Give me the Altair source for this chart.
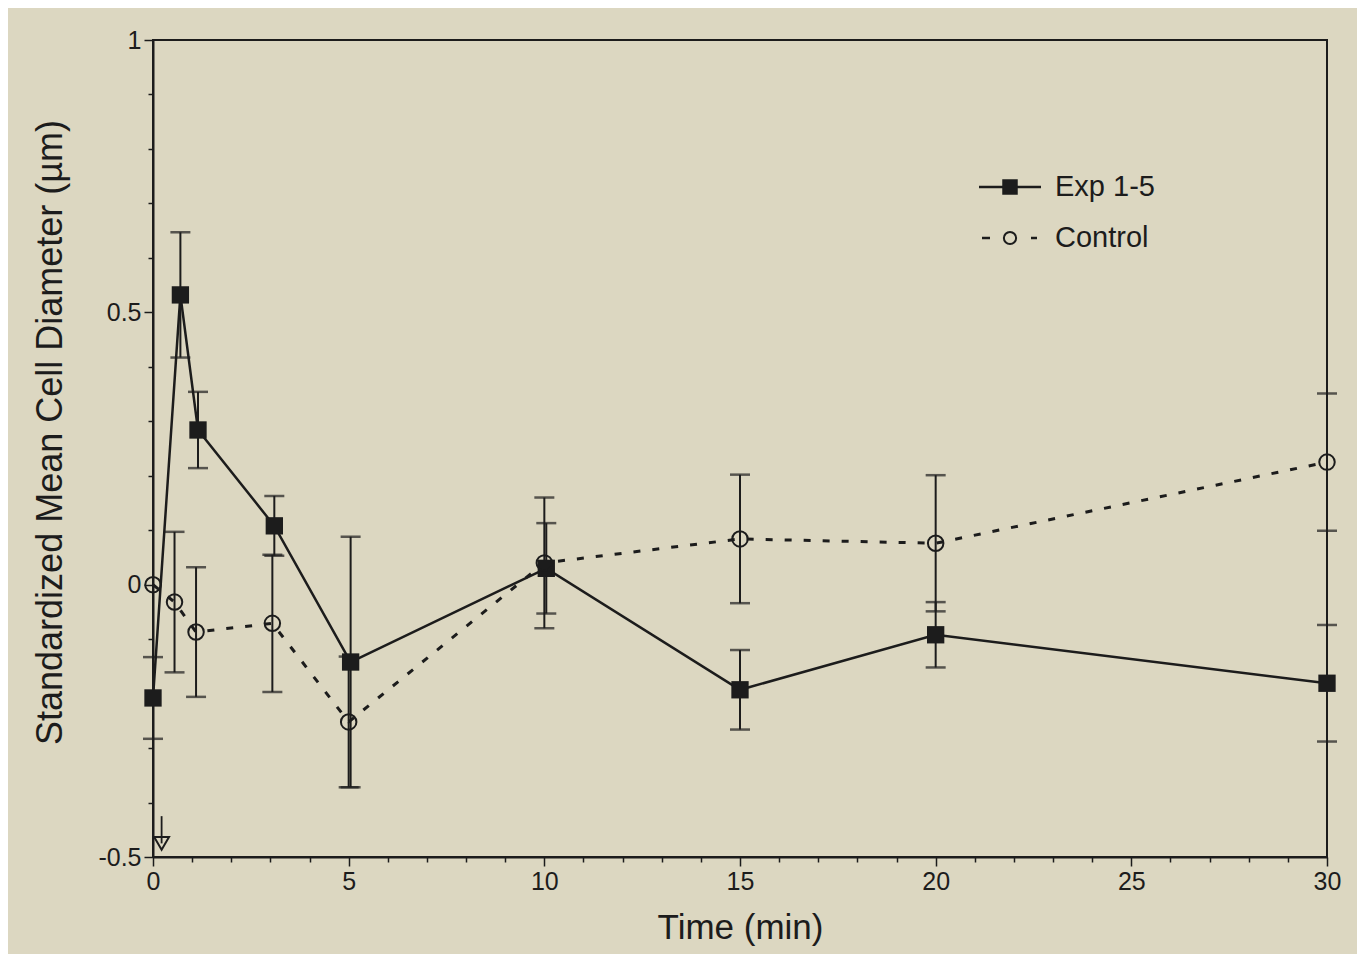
import altair as alt
import pandas as pd

# ---- data ----
exp_time = [0, 0.7, 1.15, 3.1, 5.05, 10.05, 15, 20, 30]
exp_mean = [-0.208, 0.532, 0.284, 0.108, -0.142, 0.030, -0.193, -0.092, -0.181]
exp_err = [0.075, 0.115, 0.070, 0.055, 0.230, 0.083, 0.073, 0.060, 0.107]

ctrl_time = [0, 0.55, 1.1, 3.05, 5.0, 10.0, 15, 20, 30]
ctrl_mean = [0.0, -0.032, -0.087, -0.071, -0.252, 0.040, 0.084, 0.076, 0.225]
ctrl_err = [None, 0.129, 0.119, 0.126, 0.120, 0.120, 0.118, 0.125, 0.126]

marker_time = [0.22]
marker_val = [-0.475]

x_ticks = list(range(0, 31))
y_ticks = [round(-0.5 + 0.1 * i, 1) for i in range(16)]

BG = "#DCD7C1"
INK = "#1c1c1c"
FONT = "Liberation Sans"

exp = pd.DataFrame({"t": exp_time, "m": exp_mean, "e": exp_err})
exp["lo"] = exp["m"] - exp["e"]
exp["hi"] = exp["m"] + exp["e"]
ctrl = pd.DataFrame({"t": ctrl_time, "m": ctrl_mean, "e": ctrl_err})
ctrl["lo"] = ctrl["m"] - ctrl["e"]
ctrl["hi"] = ctrl["m"] + ctrl["e"]
ctrl_eb = ctrl.dropna()
mk = pd.DataFrame({"t": marker_time, "m": marker_val})

xs = alt.Scale(domain=[0, 30], nice=False, zero=False)
ys = alt.Scale(domain=[-0.5, 1], nice=False, zero=False)

xaxis = alt.Axis(
    values=x_ticks,
    labelExpr="datum.value % 5 === 0 ? toString(datum.value) : ''",
    tickSize={"condition": {"test": "datum.value % 5 === 0", "value": 9}, "value": 5},
    labelOverlap=False, labelFlush=False, labelBound=False,
    grid=False, domainColor=INK, tickColor=INK, domainWidth=2, tickWidth=1.5,
    labelFont=FONT, labelFontSize=25, labelColor=INK, labelPadding=3,
    titleFont=FONT, titleFontSize=35, titleFontWeight="normal", titleColor=INK,
    titlePadding=16, title="Time (min)",
)
yaxis = alt.Axis(
    values=y_ticks,
    labelExpr="abs(datum.value*2 - round(datum.value*2)) < 0.001 ? toString(round(datum.value*2)/2) : ''",
    tickSize={"condition": {"test": "abs(datum.value*2 - round(datum.value*2)) < 0.001", "value": 9}, "value": 5},
    labelOverlap=False, labelFlush=False, labelBound=False,
    grid=False, domainColor=INK, tickColor=INK, domainWidth=2, tickWidth=1.5,
    labelFont=FONT, labelFontSize=25, labelColor=INK, labelPadding=3,
    titleFont=FONT, titleFontSize=36, titleFontWeight="normal", titleColor=INK,
    titlePadding=28, titleY=392, title="Standardized Mean Cell Diameter (µm)",
)

X = alt.X("t:Q", scale=xs, axis=xaxis)
Y = alt.Y("m:Q", scale=ys, axis=yaxis)

exp_line = alt.Chart(exp).mark_line(color=INK, strokeWidth=2.5).encode(x=X, y=Y)
ctrl_line = alt.Chart(ctrl).mark_line(color=INK, strokeWidth=3, strokeDash=[7, 12]).encode(x=X, y=Y)

def errbars(df):
    base = alt.Chart(df)
    rule = base.mark_rule(color=INK, strokeWidth=2).encode(
        x=X, y=alt.Y("lo:Q", scale=ys, axis=yaxis), y2="hi:Q")
    cap_lo = base.mark_tick(color=INK, orient="horizontal", size=20, thickness=2.5).encode(
        x=X, y=alt.Y("lo:Q", scale=ys, axis=yaxis))
    cap_hi = base.mark_tick(color=INK, orient="horizontal", size=20, thickness=2.5).encode(
        x=X, y=alt.Y("hi:Q", scale=ys, axis=yaxis))
    return rule + cap_lo + cap_hi

exp_pts = alt.Chart(exp).mark_point(shape="square", filled=True, color=INK, size=300, opacity=1).encode(x=X, y=Y)
ctrl_pts = alt.Chart(ctrl).mark_point(shape="circle", filled=False, color=INK, size=240, strokeWidth=2, opacity=1).encode(x=X, y=Y)

mk_pt = alt.Chart(mk).mark_point(shape="triangle-down", filled=False, color=INK, size=220, strokeWidth=2, opacity=1).encode(
    x=X, y=Y)
mk_arrow = alt.Chart(mk).mark_rule(color=INK, strokeWidth=1.8).encode(
    x=X, y=Y, y2=alt.Y2(datum=-0.425))

# ---- manual legend ----
leg_line = alt.Chart(mk).mark_rule(color=INK, strokeWidth=2.5).encode(
    x=alt.value(826), x2=alt.value(888), y=alt.value(147))
leg_sq = alt.Chart(mk).mark_point(shape="square", filled=True, color=INK, size=240, opacity=1).encode(
    x=alt.value(857), y=alt.value(147))
leg_d1 = alt.Chart(mk).mark_rule(color=INK, strokeWidth=2.5).encode(
    x=alt.value(829), x2=alt.value(837), y=alt.value(198))
leg_d2 = alt.Chart(mk).mark_rule(color=INK, strokeWidth=2.5).encode(
    x=alt.value(878), x2=alt.value(884), y=alt.value(198))
leg_c = alt.Chart(mk).mark_point(shape="circle", filled=False, color=INK, size=150, strokeWidth=2, opacity=1).encode(
    x=alt.value(857), y=alt.value(198))
leg_t1 = alt.Chart(mk).mark_text(text="Exp 1-5", align="left", baseline="middle", font=FONT, fontSize=29, color=INK).encode(
    x=alt.value(902), y=alt.value(147))
leg_t2 = alt.Chart(mk).mark_text(text="Control", align="left", baseline="middle", font=FONT, fontSize=29, color=INK).encode(
    x=alt.value(902), y=alt.value(198))

chart = alt.layer(
    exp_line, ctrl_line, errbars(exp), errbars(ctrl_eb), exp_pts, ctrl_pts, mk_arrow, mk_pt,
    leg_line, leg_sq, leg_d1, leg_d2, leg_c, leg_t1, leg_t2,
).properties(
    width=1174, height=817,
    autosize=alt.AutoSizeParams(type="none"),
    padding={"left": 145, "top": 32, "right": 30, "bottom": 97},
    background=BG,
).configure_view(stroke=INK, strokeWidth=2).configure_axis(labelOverlap=False)

chart.save("out.html", embed_options={"renderer": "svg", "actions": False})
